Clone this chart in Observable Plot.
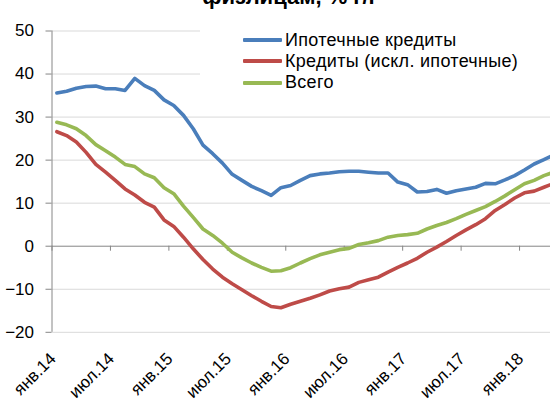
<!DOCTYPE html>
<html><head><meta charset="utf-8">
<script src="https://cdn.jsdelivr.net/npm/d3@7"></script>
<script src="https://cdn.jsdelivr.net/npm/@observablehq/plot@0.6"></script>
<style>
html,body{margin:0;padding:0;background:#fff;overflow:hidden;width:550px;height:403px}
#wrap{position:relative;width:580px;height:403px;font-family:Arial,"Liberation Sans",sans-serif}
#chart{position:absolute;left:0;top:0}
#title{position:absolute;left:0;top:-15px;width:580px;text-align:center;font-weight:bold;font-size:22px;line-height:24px;color:#000;white-space:nowrap}
#legend{position:absolute;left:200px;top:24px;width:380px;height:80px;background:#fff}
.row{position:absolute;left:43px;height:20px;display:flex;align-items:center;font-size:18px;letter-spacing:0.3px;white-space:nowrap;color:#000}
.sw{width:39px;height:4px;margin-right:3px;border-radius:1px}
</style></head>
<body>
<div id="wrap">
  <div id="chart"></div>
  <div id="title">физлицам, % г/г</div>
  <div id="legend"></div>
</div>
<script>
// Series names and colours
const seriesNames = ["Ипотечные кредиты", "Кредиты (искл. ипотечные)", "Всего"];
const seriesColors = ["#4a7ebb", "#be4b48", "#98b954"];

// Monthly values, Jan 2014 onward (% y/y)
const mortgage = [35.6, 36.0, 36.7, 37.1, 37.2, 36.6, 36.6, 36.2, 39.0, 37.3, 36.2, 34.0, 32.7, 30.4, 27.3, 23.5, 21.5, 19.3, 16.7, 15.3, 13.9, 12.9, 11.8, 13.6, 14.1, 15.3, 16.4, 16.8, 17.0, 17.3, 17.4, 17.4, 17.2, 17.0, 17.0, 14.9, 14.3, 12.6, 12.7, 13.2, 12.3, 12.9, 13.3, 13.7, 14.6, 14.5, 15.4, 16.4, 17.7, 19.1, 20.1, 21.2];
const nonMortgage = [26.6, 25.7, 24.2, 21.8, 19.0, 17.2, 15.3, 13.3, 11.9, 10.2, 9.1, 6.1, 4.6, 2.1, -0.6, -3.1, -5.3, -7.2, -8.7, -10.1, -11.5, -12.8, -14.0, -14.3, -13.5, -12.8, -12.1, -11.3, -10.4, -9.9, -9.5, -8.4, -7.8, -7.2, -6.0, -4.9, -3.9, -2.8, -1.4, -0.2, 1.1, 2.5, 3.8, 5.0, 6.4, 8.3, 9.7, 11.2, 12.4, 12.8, 13.7, 14.6];
const total = [28.8, 28.2, 27.3, 25.7, 23.6, 22.2, 20.7, 19.0, 18.5, 16.8, 15.9, 13.6, 12.2, 9.3, 6.7, 4.0, 2.5, 0.7, -1.4, -2.7, -3.9, -4.9, -5.8, -5.7, -5.0, -3.9, -2.9, -2.0, -1.4, -0.8, -0.5, 0.4, 0.8, 1.3, 2.1, 2.5, 2.7, 3.0, 4.0, 4.8, 5.5, 6.4, 7.4, 8.3, 9.2, 10.4, 11.7, 13.1, 14.5, 15.3, 16.4, 17.2];

// Category axis: 54 monthly categories (Jan 2014 – Jun 2018)
const nCategories = 54;
const tickLabels = ["янв.14", "июл.14", "янв.15", "июл.15", "янв.16", "июл.16", "янв.17", "июл.17", "янв.18"];
const tickIndex = [0, 6, 12, 18, 24, 30, 36, 42, 48];
const yTicks = [-20, -10, 0, 10, 20, 30, 40, 50];

const allSeries = [mortgage, nonMortgage, total];
const rows = [];
allSeries.forEach((vals, s) => vals.forEach((v, i) => rows.push({i, v, s: seriesNames[s]})));
const boundaries = tickIndex.map(d => d - 0.5);

const font = "Arial, 'Liberation Sans', sans-serif";
const chart = Plot.plot({
  width: 580, height: 403,
  marginLeft: 51.5, marginRight: 2.5, marginTop: 30.5, marginBottom: 71.2,
  style: {fontFamily: font, fontSize: "17px", color: "#000", background: "#fff", overflow: "visible"},
  x: {domain: [-0.5, nCategories - 0.5], axis: null},
  y: {domain: [-20, 50], axis: null},
  color: {domain: seriesNames, range: seriesColors},
  marks: [
    Plot.ruleY(yTicks.filter(d => d !== 0), {stroke: "#d9d9d9", strokeWidth: 1}),
    Plot.ruleY([0], {stroke: "#868686", strokeWidth: 1}),
    Plot.ruleX(boundaries, {x: d => d, y1: 0, y2: 0, insetBottom: -5, stroke: "#868686"}),
    Plot.ruleX([-0.5], {stroke: "#868686"}),
    Plot.axisY({ticks: yTicks, tickSize: 6, tickPadding: 12, stroke: "#868686", fill: "#000", label: null, fontSize: 17}),
    Plot.line(rows, {x: "i", y: "v", z: "s", stroke: "s", strokeWidth: 3.6, strokeLinejoin: "round", strokeLinecap: "round"}),
    Plot.text(tickIndex, {x: d => d, y: -20, text: (d, k) => tickLabels[k], rotate: -45, textAnchor: "end", lineAnchor: "bottom", dy: 27.5, fontSize: 17, fill: "#000"})
  ]
});
document.getElementById("chart").appendChild(chart);

const legend = document.getElementById("legend");
seriesNames.forEach((name, k) => {
  const row = document.createElement("div");
  row.className = "row";
  row.style.top = (6 + k * 21.4) + "px";
  const sw = document.createElement("div");
  sw.className = "sw";
  sw.style.background = seriesColors[k];
  const tx = document.createElement("span");
  tx.textContent = name;
  row.appendChild(sw); row.appendChild(tx);
  legend.appendChild(row);
});
</script>
</body></html>
